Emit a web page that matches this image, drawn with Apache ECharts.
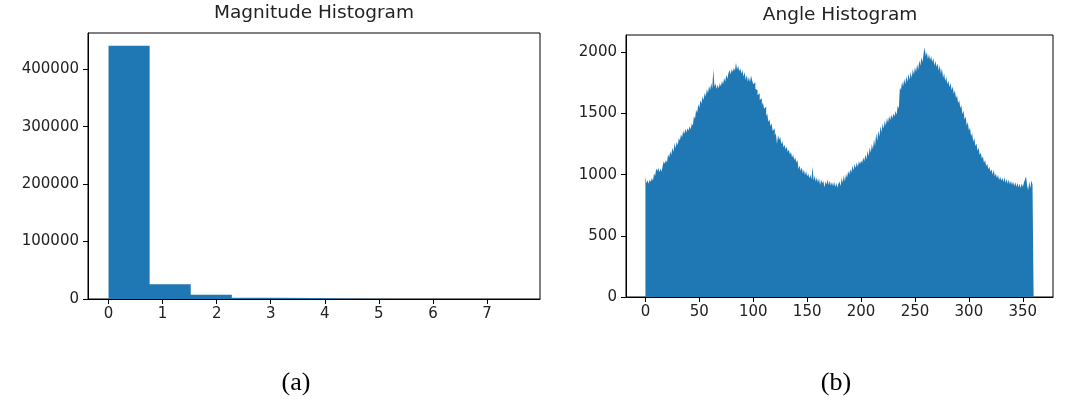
<!DOCTYPE html>
<html>
<head>
<meta charset="utf-8">
<script src="https://cdn.jsdelivr.net/npm/echarts@6/dist/echarts.min.js"></script>
<style>
  html, body { margin: 0; padding: 0; background: #fff; }
  #chart { width: 1070px; height: 404px; }
</style>
</head>
<body>
<div id="chart"></div>
<script>
// magnitude histogram: 10 bins
var magEdges = [0, 0.76, 1.52, 2.28, 3.04, 3.8, 4.56, 5.32, 6.08, 6.84, 7.6];
var magCounts = [441000, 25500, 7500, 2200, 1600, 500, 180, 70, 25, 10];
var magXTicks = [0, 1, 2, 3, 4, 5, 6, 7];
var magYTicks = [0, 100000, 200000, 300000, 400000];

// angle histogram: one bin per degree, 0..360
var angleCounts = [
  985, 930, 955, 925, 960, 940, 975, 950, 1010, 990,
  1050, 1030, 1055, 1020, 1050, 1025, 1070, 1110, 1090, 1120,
  1100, 1165, 1140, 1190, 1160, 1220, 1185, 1260, 1215, 1270,
  1240, 1300, 1280, 1330, 1305, 1360, 1330, 1375, 1345, 1380,
  1360, 1395, 1370, 1420, 1400, 1480, 1455, 1530, 1505, 1575,
  1545, 1610, 1580, 1640, 1610, 1670, 1640, 1700, 1665, 1725,
  1690, 1750, 1705, 1865, 1720, 1745, 1700, 1735, 1705, 1750,
  1720, 1765, 1740, 1790, 1760, 1815, 1785, 1830, 1855, 1820,
  1865, 1840, 1875, 1850, 1915, 1860, 1890, 1845, 1870, 1825,
  1855, 1800, 1840, 1775, 1815, 1760, 1800, 1755, 1810, 1770,
  1740, 1755, 1700, 1690, 1650, 1665, 1610, 1625, 1570, 1590,
  1540, 1555, 1480, 1500, 1430, 1455, 1395, 1420, 1360, 1375,
  1320, 1340, 1250, 1325, 1285, 1310, 1250, 1275, 1225, 1245,
  1205, 1230, 1185, 1205, 1165, 1185, 1140, 1165, 1120, 1140,
  1100, 1120, 1045, 1075, 1030, 1060, 1010, 1045, 995, 1030,
  985, 1010, 970, 1000, 960, 1065, 955, 990, 945, 980,
  935, 970, 915, 960, 930, 950, 895, 945, 920, 960,
  915, 950, 910, 940, 905, 945, 900, 935, 895, 925,
  945, 905, 975, 935, 995, 945, 1005, 975, 1030, 1000,
  1045, 1015, 1075, 1035, 1090, 1055, 1100, 1065, 1110, 1085,
  1115, 1095, 1140, 1110, 1165, 1125, 1195, 1150, 1225, 1180,
  1250, 1205, 1290, 1235, 1340, 1275, 1360, 1310, 1395, 1345,
  1420, 1375, 1445, 1400, 1465, 1425, 1480, 1445, 1490, 1460,
  1500, 1475, 1520, 1490, 1565, 1540, 1715, 1690, 1760, 1720,
  1785, 1740, 1805, 1760, 1825, 1775, 1840, 1790, 1865, 1820,
  1880, 1840, 1905, 1855, 1935, 1890, 1960, 1920, 1990, 2040,
  1970, 2000, 1945, 1985, 1935, 1970, 1920, 1955, 1890, 1930,
  1880, 1910, 1850, 1895, 1825, 1870, 1790, 1830, 1765, 1800,
  1740, 1770, 1715, 1750, 1690, 1720, 1660, 1690, 1625, 1650,
  1585, 1610, 1545, 1570, 1495, 1525, 1450, 1475, 1400, 1430,
  1360, 1385, 1315, 1340, 1270, 1300, 1235, 1255, 1195, 1220,
  1160, 1180, 1130, 1150, 1095, 1120, 1070, 1090, 1045, 1065,
  1025, 1045, 1000, 1040, 985, 1010, 970, 1000, 955, 985,
  950, 975, 940, 980, 935, 965, 925, 960, 920, 950,
  915, 945, 905, 940, 900, 935, 895, 925, 890, 930,
  900, 935, 960, 985, 910, 875, 945, 890, 955, 915
];
var angleStart = 0;
var angleBinWidth = 1;
var angleXTicks = [0, 50, 100, 150, 200, 250, 300, 350];
var angleYTicks = [0, 500, 1000, 1500, 2000];

var blue = '#1f77b4';
var textColor = '#222';

// step outline of a histogram: each bin holds its count from its left edge to the next
function stepPoints(edges, counts) {
  var pts = counts.map(function (c, i) { return [edges[i], c]; });
  pts.push([edges[edges.length - 1], counts[counts.length - 1]]);
  return pts;
}
var angleEdges = [];
for (var i = 0; i <= angleCounts.length; i++) angleEdges.push(angleStart + i * angleBinWidth);

function plain(v) { return String(v); }

function xAxisOf(idx, min, max, ticks) {
  return {
    type: 'value', gridIndex: idx, min: min, max: max,
    axisLine: { show: true, onZero: false, lineStyle: { color: '#000', width: 1 } },
    axisTick: { show: true, length: 5, customValues: ticks, lineStyle: { color: '#000' } },
    axisLabel: { customValues: ticks, margin: 8, formatter: plain,
      color: textColor, fontSize: 15, fontFamily: 'DejaVu Sans' },
    splitLine: { show: false }
  };
}
function yAxisOf(idx, max, ticks) {
  return {
    type: 'value', gridIndex: idx, min: 0, max: max,
    axisLine: { show: true, onZero: false, lineStyle: { color: '#000', width: 1 } },
    axisTick: { show: true, length: 5, customValues: ticks, lineStyle: { color: '#000' } },
    axisLabel: { customValues: ticks, margin: 9, formatter: plain,
      color: textColor, fontSize: 15, fontFamily: 'DejaVu Sans' },
    splitLine: { show: false }
  };
}
function histSeries(idx, pts) {
  return {
    type: 'line', xAxisIndex: idx, yAxisIndex: idx, data: pts,
    step: 'end', symbol: 'none', silent: true,
    lineStyle: { width: 0, color: blue },
    areaStyle: { color: blue, opacity: 1, origin: 'start' }
  };
}

var chart = echarts.init(document.getElementById('chart'));
var option = {
  animation: false,
  backgroundColor: '#fff',
  title: [
    { text: 'Magnitude Histogram', left: 314, top: 4, textAlign: 'center', padding: 0,
      textStyle: { fontFamily: 'DejaVu Sans', fontSize: 18.5, fontWeight: 'normal', color: textColor } },
    { text: 'Angle Histogram', left: 840, top: 6, textAlign: 'center', padding: 0,
      textStyle: { fontFamily: 'DejaVu Sans', fontSize: 18.5, fontWeight: 'normal', color: textColor } },
    { text: '(a)', left: 296, top: 370, textAlign: 'center', padding: 0,
      textStyle: { fontFamily: 'Liberation Serif', fontSize: 26, fontWeight: 'normal', color: '#000' } },
    { text: '(b)', left: 836, top: 370, textAlign: 'center', padding: 0,
      textStyle: { fontFamily: 'Liberation Serif', fontSize: 26, fontWeight: 'normal', color: '#000' } }
  ],
  grid: [
    { left: 88, top: 33, width: 452, height: 266, show: true, borderColor: '#000', borderWidth: 1, backgroundColor: 'transparent' },
    { left: 626, top: 35, width: 427, height: 262, show: true, borderColor: '#000', borderWidth: 1, backgroundColor: 'transparent' }
  ],
  xAxis: [
    xAxisOf(0, -0.38, 7.98, magXTicks),
    xAxisOf(1, -18, 378, angleXTicks)
  ],
  yAxis: [
    yAxisOf(0, 463050, magYTicks),
    yAxisOf(1, 2142, angleYTicks)
  ],
  series: [
    histSeries(0, stepPoints(magEdges, magCounts)),
    histSeries(1, stepPoints(angleEdges, angleCounts))
  ]
};
chart.setOption(option);
</script>
</body>
</html>
